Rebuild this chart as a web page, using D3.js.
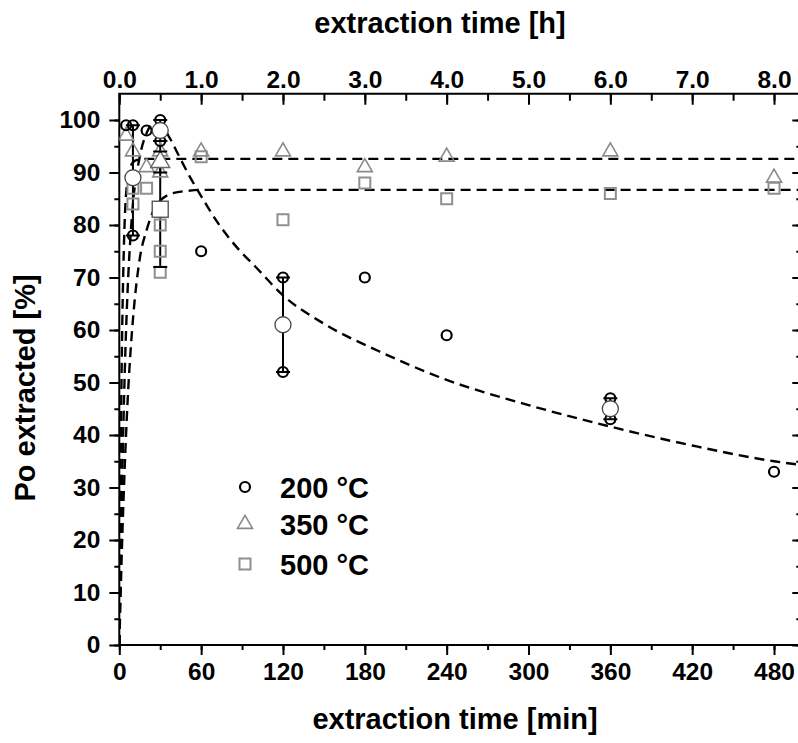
<!DOCTYPE html>
<html>
<head>
<meta charset="utf-8">
<script src="https://cdn.jsdelivr.net/npm/d3@7"></script>
<style>
  html, body { margin: 0; padding: 0; background: #fff; }
  svg { display: block; }
  text { font-family: "Liberation Sans", Arial, sans-serif; font-weight: bold; fill: #000; }
</style>
</head>
<body>
<svg id="chart" width="798" height="743"></svg>
<script>
// ---------- data ----------
const minTicks = [0, 60, 120, 180, 240, 300, 360, 420, 480];
const hourTicks = [0, 1, 2, 3, 4, 5, 6, 7, 8];
const yTicks = [0, 10, 20, 30, 40, 50, 60, 70, 80, 90, 100];

// 200 °C individual points
const circleX = [5, 10, 10, 20, 30, 30, 60, 120, 120, 180, 240, 360, 360, 480];
const circleY = [99, 99, 78, 98, 100, 96, 75, 70, 52, 70, 59, 47, 43, 33];
// 350 °C individual points
const triX = [5, 10, 20, 30, 30, 60, 120, 180, 240, 360, 480];
const triY = [97, 94, 91, 94, 90, 94, 94, 91, 93, 94, 89];
// 500 °C individual points
const sqX = [10, 10, 20, 30, 30, 30, 60, 120, 180, 240, 360, 480];
const sqY = [87, 84, 87, 80, 75, 71, 93, 81, 88, 85, 86, 87];

// means with error bars
const circleMeanX = [10, 30, 120, 360];
const circleMean = [89, 98, 61, 45];
const circleLo = [78, 96, 52, 43];
const circleHi = [99, 100, 70, 47];
const triMeanX = [30];
const triMean = [92];
const triLo = [90];
const triHi = [96];
const sqMeanX = [30];
const sqMean = [83];
const sqLo = [72];
const sqHi = [94];

// fitted dashed curves
const fitCircX = [0, 2, 4, 6, 8, 10, 15, 20, 25, 30, 36, 45, 50, 60, 72, 87, 100, 120, 150, 190, 240, 300, 360, 420, 480, 500];
const fitCircY = [0, 30, 52, 67, 77, 84, 93, 97.5, 99.3, 99.3, 97, 92.5, 90, 85.5, 80.5, 75.5, 72, 66.6, 61.2, 56, 50.5, 45.7, 41.6, 38, 35, 34.3];
const fitTriX = [0, 1, 2, 3, 5, 8, 12, 20, 500];
const fitTriY = [0, 35, 58, 72, 86, 91, 92.3, 92.6, 92.6];
const fitSqX = [0, 2, 4, 6, 8, 10, 15, 20, 25, 30, 40, 50, 60, 500];
const fitSqY = [0, 19, 34, 46, 55, 62, 73.6, 79, 82.7, 84.6, 86.1, 86.5, 86.7, 86.7];

const legendLabels = ["200 °C", "350 °C", "500 °C"];

// ---------- layout ----------
const svg = d3.select("#chart");
const L = 119.3, R = 801.3, T = 93.75, B = 645;
const x = d3.scaleLinear().domain([0, 500]).range([L, R]);
const xh = d3.scaleLinear().domain([0, 500 / 60]).range([L, R]);
const y = d3.scaleLinear().domain([0, 105]).range([B, T]);

const grayTri = "#8a8a8a", graySq = "#8f8f8f";

svg.append("clipPath").attr("id", "clip")
  .append("rect").attr("x", L).attr("y", T).attr("width", R - L).attr("height", B - T);

// ---------- axes ----------
function styleAxis(g) {
  g.select(".domain").remove();
  g.selectAll("line").attr("stroke", "#000").attr("stroke-width", 2);
  g.selectAll("text").style("font-size", "24.5px").attr("fill", "#000");
}
// bottom
svg.append("g").attr("transform", `translate(0,${B})`)
  .call(d3.axisBottom(x).tickValues(d3.range(0, 501, 30)).tickSize(5).tickFormat(""))
  .call(styleAxis);
svg.append("g").attr("transform", `translate(0,${B})`)
  .call(d3.axisBottom(x).tickValues(minTicks).tickSize(10).tickPadding(8).tickFormat(d3.format("d")))
  .call(styleAxis);
// top (hours), ticks pointing into the plot
svg.append("g").attr("transform", `translate(0,${T})`)
  .call(d3.axisTop(xh).tickValues(d3.range(0, 8.5, 0.5)).tickSize(-7).tickFormat(""))
  .call(styleAxis);
svg.append("g").attr("transform", `translate(0,${T})`)
  .call(d3.axisTop(xh).tickValues(hourTicks).tickSize(-11).tickPadding(6).tickFormat(d3.format(".1f")))
  .call(styleAxis);
// left
svg.append("g").attr("transform", `translate(${L},0)`)
  .call(d3.axisLeft(y).tickValues(d3.range(0, 105, 5)).tickSize(5).tickFormat(""))
  .call(styleAxis);
svg.append("g").attr("transform", `translate(${L},0)`)
  .call(d3.axisLeft(y).tickValues(yTicks).tickSize(10).tickPadding(9).tickFormat(d3.format("d")))
  .call(styleAxis);
// right, ticks pointing inward
svg.append("g").attr("transform", `translate(${R},0)`)
  .call(d3.axisRight(y).tickValues(d3.range(0, 105, 5)).tickSize(-5).tickFormat(""))
  .call(styleAxis);
svg.append("g").attr("transform", `translate(${R},0)`)
  .call(d3.axisRight(y).tickValues(yTicks).tickSize(-9).tickFormat(""))
  .call(styleAxis);

// frame
svg.append("rect").attr("x", L).attr("y", T).attr("width", R - L).attr("height", B - T)
  .attr("fill", "none").attr("stroke", "#000").attr("stroke-width", 2);

// ---------- fitted curves ----------
const plot = svg.append("g").attr("clip-path", "url(#clip)");
const line = d3.line().x(d => x(d[0])).y(d => y(d[1])).curve(d3.curveMonotoneX);
[[fitCircX, fitCircY], [fitTriX, fitTriY], [fitSqX, fitSqY]].forEach(([xs, ys]) => {
  plot.append("path")
    .attr("d", line(xs.map((v, i) => [v, ys[i]])))
    .attr("fill", "none").attr("stroke", "#000").attr("stroke-width", 2.4)
    .attr("stroke-dasharray", "10,6");
});

// ---------- error bars ----------
function errorBars(xs, lo, hi) {
  xs.forEach((v, i) => {
    const cx = x(v);
    plot.append("line").attr("x1", cx).attr("x2", cx).attr("y1", y(lo[i])).attr("y2", y(hi[i]))
      .attr("stroke", "#000").attr("stroke-width", 2);
  });
}
errorBars(circleMeanX, circleLo, circleHi);
errorBars(triMeanX, triLo, triHi);
errorBars(sqMeanX, sqLo, sqHi);

// ---------- markers ----------
const triPath = s => { const h = s * Math.sqrt(3) / 2; return `M0,${-h * 2 / 3}L${s / 2},${h / 3}L${-s / 2},${h / 3}Z`; };

function circles(g, xs, ys, r, stroke, sw, fill) {
  xs.forEach((v, i) => g.append("circle").attr("cx", x(v)).attr("cy", y(ys[i])).attr("r", r)
    .attr("fill", fill).attr("stroke", stroke).attr("stroke-width", sw));
}
function tris(g, xs, ys, s, stroke, sw, fill) {
  xs.forEach((v, i) => g.append("path").attr("transform", `translate(${x(v)},${y(ys[i])})`)
    .attr("d", triPath(s)).attr("fill", fill).attr("stroke", stroke).attr("stroke-width", sw));
}
function squares(g, xs, ys, s, stroke, sw, fill) {
  xs.forEach((v, i) => g.append("rect").attr("x", x(v) - s / 2).attr("y", y(ys[i]) - s / 2)
    .attr("width", s).attr("height", s)
    .attr("fill", fill).attr("stroke", stroke).attr("stroke-width", sw));
}

squares(plot, sqX, sqY, 11, graySq, 2, "none");
tris(plot, triX, triY, 15, grayTri, 1.6, "none");
circles(plot, circleX, circleY, 5, "#000", 2.2, "none");

// mean markers (larger, white filled)
squares(plot, sqMeanX, sqMean, 16, "#555", 1.4, "#fff");
tris(plot, triMeanX, triMean, 19, "#666", 1.4, "#fff");
circles(plot, circleMeanX, circleMean, 8, "#444", 1.3, "#fff");

// caps
function caps(xs, lo, hi) {
  xs.forEach((v, i) => {
    [lo[i], hi[i]].forEach(val => plot.append("line")
      .attr("x1", x(v) - 7).attr("x2", x(v) + 7).attr("y1", y(val)).attr("y2", y(val))
      .attr("stroke", "#000").attr("stroke-width", 2));
  });
}
caps(circleMeanX, circleLo, circleHi);
caps(triMeanX, triLo, triHi);
caps(sqMeanX, sqLo, sqHi);

// ---------- titles ----------
svg.append("text").attr("x", 455).attr("y", 729).attr("text-anchor", "middle")
  .style("font-size", "29px").text("extraction time [min]");
svg.append("text").attr("x", 440).attr("y", 33).attr("text-anchor", "middle")
  .style("font-size", "29px").text("extraction time [h]");
svg.append("text").attr("transform", "translate(35,388) rotate(-90)").attr("text-anchor", "middle")
  .style("font-size", "29px").text("Po extracted [%]");

// ---------- legend ----------
const legY = [487, 524, 564];
const lg = svg.append("g");
lg.append("circle").attr("cx", 245).attr("cy", legY[0]).attr("r", 5)
  .attr("fill", "none").attr("stroke", "#000").attr("stroke-width", 2.2);
lg.append("path").attr("transform", `translate(245,${legY[1]})`).attr("d", triPath(15))
  .attr("fill", "none").attr("stroke", grayTri).attr("stroke-width", 1.6);
lg.append("rect").attr("x", 245 - 5.5).attr("y", legY[2] - 5.5).attr("width", 11).attr("height", 11)
  .attr("fill", "none").attr("stroke", graySq).attr("stroke-width", 2);
legendLabels.forEach((t, i) => lg.append("text").attr("x", 280).attr("y", legY[i] + 10.5)
  .style("font-size", "29px").text(t));
</script>
</body>
</html>
